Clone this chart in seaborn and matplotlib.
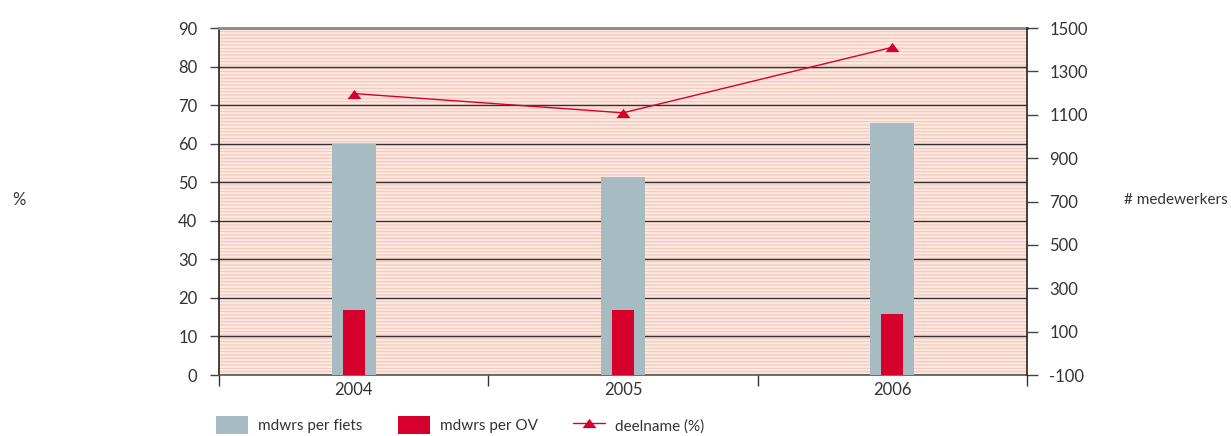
import numpy as np
import pandas as pd
import matplotlib
matplotlib.use("Agg")
import matplotlib.pyplot as plt
from matplotlib.patches import Rectangle, Patch
from matplotlib.lines import Line2D
import seaborn as sns

# ---- data ----
years = ["2004", "2005", "2006"]
mdwrs_fiets = [965, 813, 1062]      # # medewerkers (right axis)
mdwrs_ov = [200, 200, 180]          # # medewerkers (right axis)
deelname = [73, 68, 85]             # % (left axis)
left_ticks = list(range(0, 91, 10))
right_ticks = list(range(-100, 1501, 200))

GRAY = "#a6bbc2"
RED = "#d5002b"
TXT = "#333333"

sns.set_style("ticks")
plt.rcParams["font.family"] = ["Lato", "DejaVu Sans"]
plt.rcParams["axes.unicode_minus"] = False
plt.rcParams["hatch.linewidth"] = 0.7
plt.rcParams["hatch.color"] = "#f7c4b2"

FS = 12
FS_L = 11

fig = plt.figure(figsize=(12.31, 4.36), dpi=100)
ax = fig.add_axes([219 / 1231, 1 - 375 / 436, 808 / 1231, 347 / 436])
ax.set_xlim(-0.5, 2.5)
ax.set_ylim(0, 90)

# striped background
bg = Rectangle((0, 0), 1, 1, transform=ax.transAxes, facecolor="#fbe8e2",
               edgecolor="#f7c4b2", hatch="-----", linewidth=0, zorder=0)
ax.add_patch(bg)
ax.patch.set_visible(False)

# line on left axis
pos = np.arange(len(years))
tri = [(-1.5, -1), (1.5, -1), (0, 1)]
sns.lineplot(x=pos, y=deelname, ax=ax, color=RED, lw=1.0, marker=tri,
             markersize=10, markeredgewidth=0, zorder=3)

ax.set_yticks(left_ticks)
ax.yaxis.grid(True, color="#333333", lw=1.0, zorder=1)
ax.set_axisbelow(True)

# bars on right axis
ax2 = ax.twinx()
base = -100
df = pd.DataFrame({"year": years, "fiets": np.array(mdwrs_fiets) - base,
                   "ov": np.array(mdwrs_ov) - base})
sns.barplot(data=df, x="year", y="fiets", order=years, ax=ax2, color=GRAY,
            width=0.163, bottom=base, saturation=1, linewidth=0)
sns.barplot(data=df, x="year", y="ov", order=years, ax=ax2, color=RED,
            width=0.082, bottom=base, saturation=1, linewidth=0)
ax2.set_ylim(-100, 1500)
ax2.set_yticks(right_ticks)
ax2.set_xlim(-0.5, 2.5)
ax2.set_ylabel("")
ax2.set_xlabel("")

# x ticks
ax.set_xticks(pos)
ax.set_xticklabels(years)
ax.set_xticks([-0.5, 0.5, 1.5, 2.5], minor=True)
ax.tick_params(axis="x", which="major", length=0, pad=5, labelsize=FS, labelcolor=TXT)
ax.tick_params(axis="x", which="minor", length=8, width=1, color="#333333", direction="out")
ax.tick_params(axis="y", length=6.5, width=1, color="#444444", pad=9, labelsize=FS, labelcolor=TXT)
ax2.tick_params(axis="y", length=8, width=1, color="#444444", pad=8, labelsize=FS, labelcolor=TXT)

for s in ["top", "right", "left", "bottom"]:
    ax2.spines[s].set_visible(False)
ax2.spines["right"].set_visible(True)
ax2.spines["right"].set_color("#222222")
ax2.spines["right"].set_linewidth(1.2)
ax.spines["right"].set_visible(False)
ax.spines["left"].set_color("#222222")
ax.spines["left"].set_linewidth(1.2)
ax.spines["top"].set_visible(True)
ax.spines["top"].set_color("#8a8a8a")
ax.spines["top"].set_linewidth(2.0)
ax.spines["bottom"].set_color("#555555")
ax.spines["bottom"].set_linewidth(1.2)

ax.set_xlabel("")
ax.set_ylabel("%", rotation=0, fontsize=FS, color=TXT, ha="left", va="center")
ax.yaxis.set_label_coords((12 - 219) / 808, 0.505)
ax2.set_ylabel("# medewerkers", rotation=0, fontsize=FS_L, color=TXT, ha="right", va="center")
ax2.yaxis.set_label_coords((1228 - 219) / 808, 0.505)

# legend
handles = [Patch(facecolor=GRAY, edgecolor="none"),
           Patch(facecolor=RED, edgecolor="none"),
           Line2D([], [], color=RED, lw=1.0, marker=tri, markersize=10, markeredgewidth=0)]
fig.legend(handles, ["mdwrs per fiets", "mdwrs per OV", "deelname (%)"],
           loc="lower left", bbox_to_anchor=(216 / 1231, 2 / 436), ncol=3,
           frameon=False, fontsize=FS_L, handlelength=2.1, handleheight=1.4,
           handletextpad=0.65, columnspacing=2.3, borderpad=0, borderaxespad=0,
           labelcolor=TXT)

fig.savefig("out.png", dpi=100)
